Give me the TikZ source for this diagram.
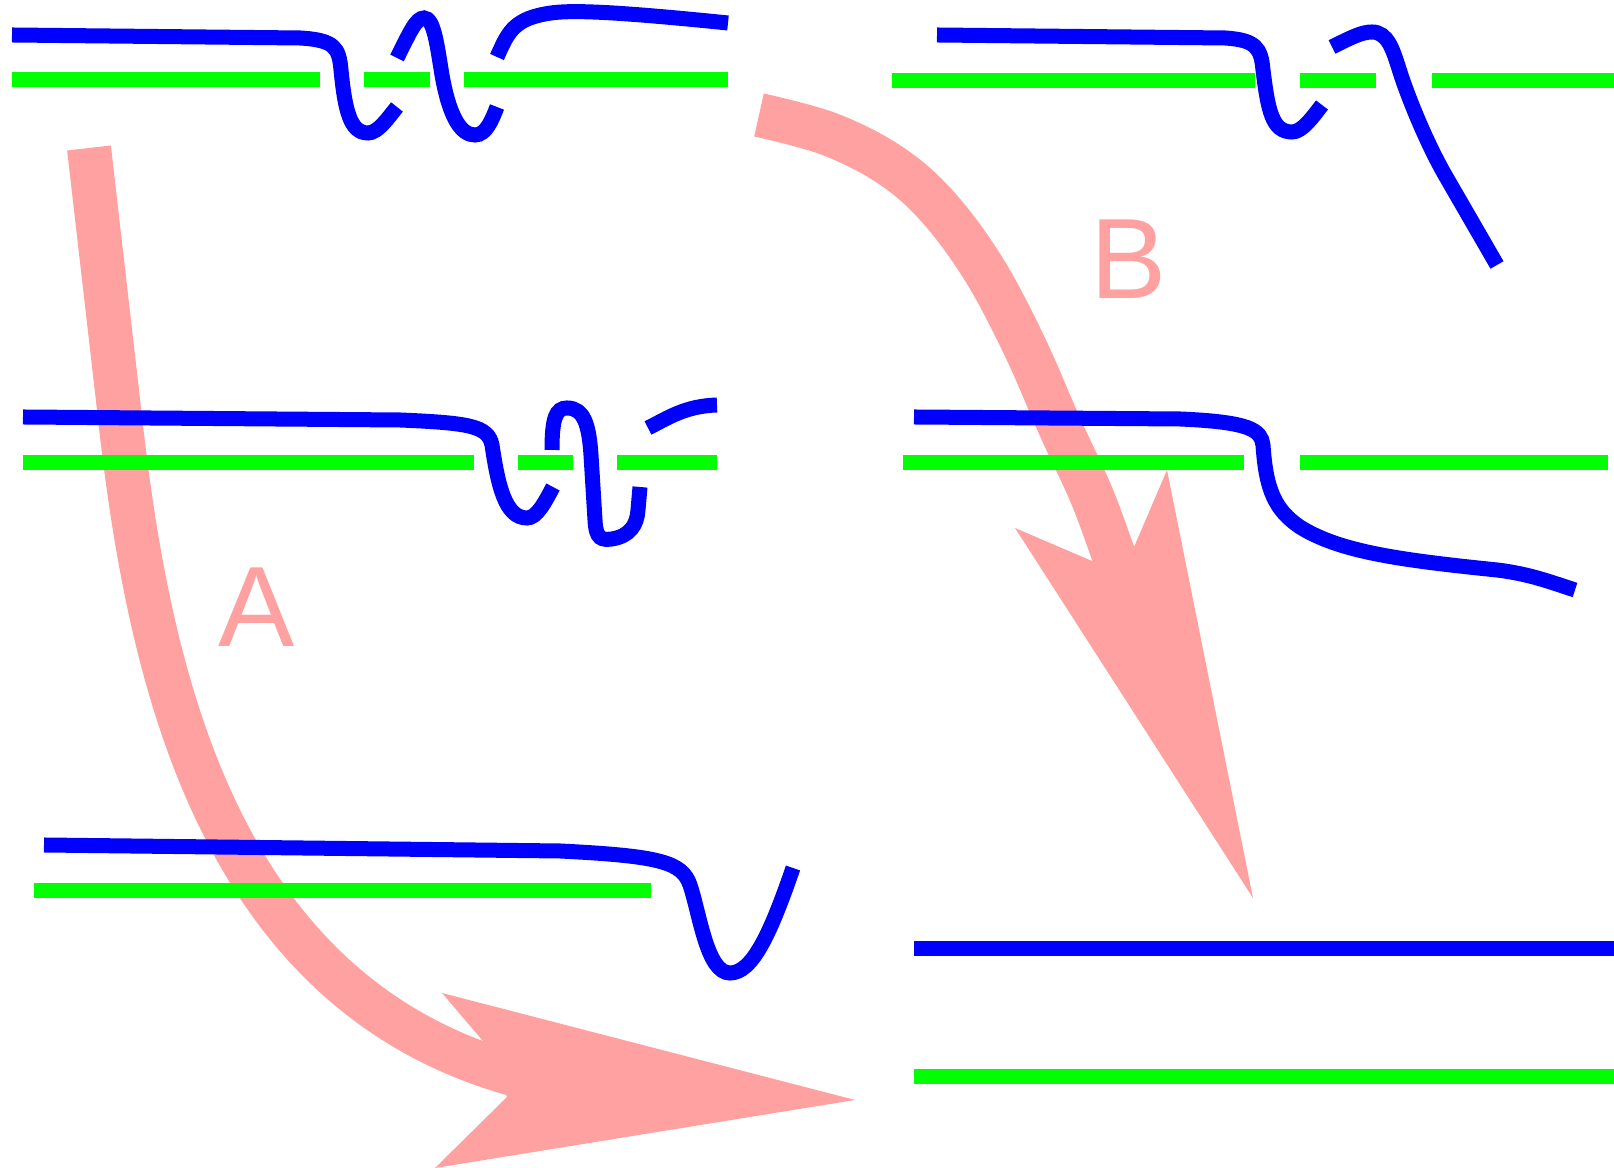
\documentclass[tikz,border=0pt]{standalone}
\usepackage{fontspec}
\setmainfont{Liberation Sans}
\definecolor{myblue}{RGB}{0,0,255}
\definecolor{mygreen}{RGB}{0,255,0}
\definecolor{mypink}{RGB}{255,161,161}
\begin{document}
\begin{tikzpicture}[x=0.01cm,y=-0.01cm,
  blueline/.style={draw=myblue,line width=0.15cm},
  greenline/.style={draw=mygreen,line width=0.15cm},
  pinkshaft/.style={draw=mypink,line width=0.44cm},
  pinkhead/.style={fill=mypink},
  lab/.style={text=mypink,font=\fontsize{32.5}{36}\selectfont,inner sep=0pt}]
\useasboundingbox (0,0) rectangle (1614,1168);

% pink arrows (underneath)
\draw[pinkshaft] (89,148) -- (118,400) .. controls (146,660) and (210,1010) .. (545,1082);
\fill[pinkhead] (442,993) -- (855,1100) -- (435,1168) -- (507,1097) -- (488,1047) -- cycle;
\draw[pinkshaft] plot[smooth,tension=0.6] coordinates {(759,115) (829,134) (890,165) (937,206) (983,268) (1024,345) (1060,427) (1091,494) (1113,553) (1130,600)};
\fill[pinkhead] (1015,528) -- (1253,898) -- (1167,470) -- (1134,547) -- (1092,561) -- cycle;
\node[lab] (labA) at (257,607) {A};
\node[lab] (labB) at (1129,259) {B};

% panel 1 (top left)
\draw[greenline] (12,80) -- (320,80);
\draw[greenline] (364,80) -- (430,80);
\draw[greenline] (464,80) -- (728,80);
\draw[blueline] (12,35) -- (300,38) .. controls (335,40) and (339,48) .. (341,70) .. controls (345,110) and (350,133) .. (368,133) .. controls (378,133) and (388,118) .. (397,107);
\draw[blueline] (397,58) .. controls (410,32) and (416,18) .. (424,18) .. controls (434,18) and (437,45) .. (442,75) .. controls (450,120) and (462,135) .. (475,135) .. controls (486,135) and (492,120) .. (497,107);
\draw[blueline] (497,57) .. controls (507,35) and (512,20) .. (545,14) .. controls (565,10) and (600,10) .. (728,23);

% panel 2 (top right)
\draw[greenline] (892,81) -- (1255,81);
\draw[greenline] (1300,81) -- (1376,81);
\draw[greenline] (1432,81) -- (1614,81);
\draw[blueline] (937,35) -- (1225,38) .. controls (1256,40) and (1261,48) .. (1263,70) .. controls (1268,110) and (1272,132) .. (1292,132) .. controls (1302,132) and (1312,118) .. (1322,105);
\draw[blueline] (1332,47) .. controls (1352,37) and (1362,32) .. (1372,32) .. controls (1388,32) and (1393,50) .. (1400,72) .. controls (1407,94) and (1425,140) .. (1445,175) -- (1497,265);

% panel 3 (middle left)
\draw[greenline] (23,463) -- (474,463);
\draw[greenline] (518,463) -- (573,463);
\draw[greenline] (617,463) -- (717,463);
\draw[blueline] (23,417) -- (400,420) .. controls (470,423) and (488,426) .. (492,445) .. controls (498,485) and (505,518) .. (527,518) .. controls (537,518) and (545,502) .. (553,487);
\draw[blueline] (552,450) .. controls (552,418) and (556,408) .. (567,408) .. controls (584,408) and (589,425) .. (591,455) -- (595,520) .. controls (596,540) and (602,540) .. (612,539) .. controls (630,536) and (637,525) .. (638,510) -- (640,487);
\draw[blueline] (648,428) .. controls (668,418) and (685,406) .. (717,405);

% panel 4 (middle right)
\draw[greenline] (903,463) -- (1244,463);
\draw[greenline] (1300,463) -- (1608,463);
\draw[blueline] (914,417) -- (1180,419) .. controls (1250,422) and (1261,430) .. (1263,445) .. controls (1266,490) and (1275,510) .. (1300,527) .. controls (1340,552) and (1400,560) .. (1497,570) .. controls (1530,574) and (1550,582) .. (1575,590);

% panel 5 (bottom left)
\draw[greenline] (34,891) -- (651,891);
\draw[blueline] (44,845) -- (560,851) .. controls (660,856) and (682,862) .. (690,885) .. controls (700,915) and (707,973) .. (730,973) .. controls (752,973) and (770,935) .. (793,868);

% panel 6 (bottom right)
\draw[blueline] (914,949) -- (1614,949);
\draw[greenline] (914,1077) -- (1614,1077);
\end{tikzpicture}
\end{document}
